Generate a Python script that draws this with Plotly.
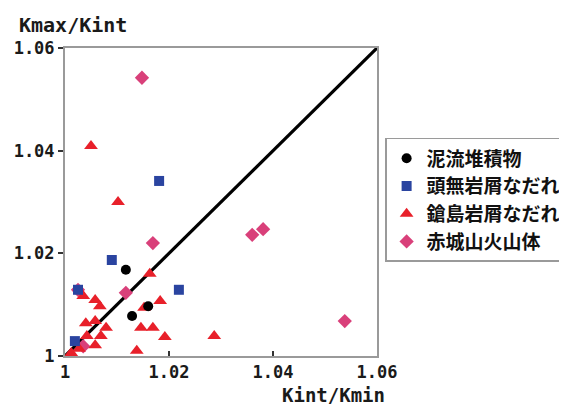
import plotly.graph_objects as go

# ---- data ----
mud_x = [1.0117, 1.0129, 1.0160]
mud_y = [1.0168, 1.0078, 1.0097]

atamanashi_x = [1.0181, 1.0090, 1.0219, 1.0025, 1.0019]
atamanashi_y = [1.0341, 1.0187, 1.0129, 1.0129, 1.0029]

yarishima_x = [1.0050, 1.0102, 1.0163, 1.0183, 1.0152, 1.0146, 1.0169, 1.0192,
               1.0138, 1.0287, 1.0035, 1.0058, 1.0067, 1.0040, 1.0058, 1.0079,
               1.0069, 1.0042, 1.0058, 1.0027, 1.0012]
yarishima_y = [1.0409, 1.0300, 1.0160, 1.0107, 1.0094, 1.0055, 1.0055, 1.0037,
               1.0010, 1.0039, 1.0117, 1.0109, 1.0097, 1.0064, 1.0068, 1.0055,
               1.0039, 1.0039, 1.0021, 1.0014, 1.0006]

akagi_x = [1.0148, 1.0169, 1.0360, 1.0381, 1.0538, 1.0025, 1.0035, 1.0117]
akagi_y = [1.0542, 1.0220, 1.0236, 1.0247, 1.0068, 1.0129, 1.0019, 1.0123]

line_x = [1.0, 1.06]
line_y = [1.0, 1.06]

tick_vals = [1.0, 1.02, 1.04, 1.06]
tick_text = ["1", "1.02", "1.04", "1.06"]

series_names = ["泥流堆積物", "頭無岩屑なだれ", "鎗島岩屑なだれ", "赤城山火山体"]

MONO = "DejaVu Sans Mono"
JP = "Noto Sans CJK JP"

fig = go.Figure()

fig.add_trace(go.Scatter(x=line_x, y=line_y, mode="lines",
                         line=dict(color="black", width=3.2),
                         showlegend=False, hoverinfo="skip"))

fig.add_trace(go.Scatter(x=akagi_x, y=akagi_y, mode="markers", name=series_names[3],
                         marker=dict(symbol="diamond", size=11, color="#d9407a")))
fig.add_trace(go.Scatter(x=yarishima_x, y=yarishima_y, mode="markers", name=series_names[2],
                         marker=dict(symbol="triangle-up", size=12, color="#e8202a")))
fig.add_trace(go.Scatter(x=atamanashi_x, y=atamanashi_y, mode="markers", name=series_names[1],
                         marker=dict(symbol="square", size=10, color="#2a44a0")))
fig.add_trace(go.Scatter(x=mud_x, y=mud_y, mode="markers", name=series_names[0],
                         marker=dict(symbol="circle", size=10, color="black")))

axis_common = dict(
    range=[1.0, 1.06],
    tickvals=tick_vals,
    ticktext=tick_text,
    showgrid=False,
    zeroline=False,
    showline=True,
    linecolor="#9a9a9a",
    linewidth=2,
    mirror=True,
    ticklen=5,
    tickwidth=1.5,
    tickcolor="#333333",
    automargin=False,
    tickfont=dict(family=MONO, size=17, color="#1a1a1a", weight="bold"),
)

fig.update_xaxes(**axis_common, ticks="inside", ticklabelstandoff=0)
fig.update_yaxes(**axis_common, ticks="outside", ticklabelstandoff=0)

fig.update_layout(
    width=567, height=405,
    margin=dict(l=57, r=198, t=40, b=57, autoexpand=False),
    plot_bgcolor="white",
    paper_bgcolor="white",
    legend=dict(
        traceorder="reversed",
        x=1.026, y=0.708, xanchor="left", yanchor="top",
        bordercolor="#9a9a9a", borderwidth=1.5,
        font=dict(family=JP, size=19, color="#111111", weight="bold"),
        itemwidth=30,
        tracegroupgap=0,
    ),
    annotations=[
        dict(text="Kmax/Kint", xref="paper", yref="paper",
             x=-0.15, y=1.075, xanchor="left", yanchor="middle", showarrow=False,
             borderpad=0,
             font=dict(family=MONO, size=20, color="#1a1a1a", weight="bold")),
        dict(text="Kint/Kmin", xref="paper", yref="paper",
             x=1.03, y=-0.127, xanchor="right", yanchor="middle", showarrow=False,
             borderpad=0,
             font=dict(family=MONO, size=19, color="#1a1a1a", weight="bold")),
    ],
)

fig.write_html("out.html")
